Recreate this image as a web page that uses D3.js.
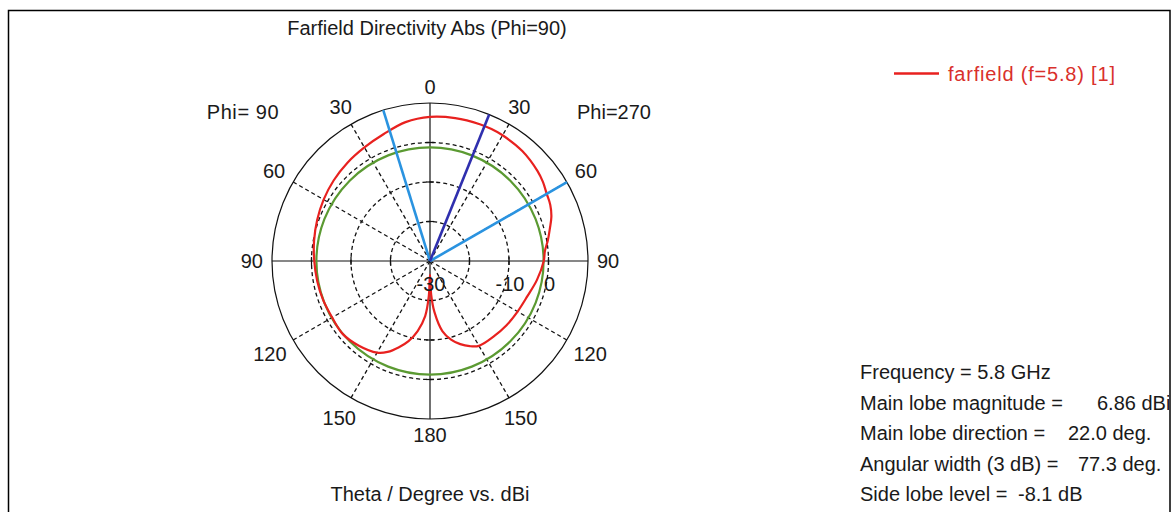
<!DOCTYPE html>
<html><head><meta charset="utf-8">
<script src="https://cdn.jsdelivr.net/npm/d3@7"></script>
<style>
html,body{margin:0;padding:0;background:#fff;}
svg{display:block;}
text{font-family:"Liberation Sans",Arial,sans-serif;fill:#1a1a1a;}
</style>
</head><body>
<svg id="c" width="1172" height="512"></svg>
<script>
// ---- data ----
const thetaDeg = [-178,-175,-170,-165,-160,-155,-150,-140,-130,-120,-110,-100,-90,-80,-70,-60,-50,-40,-30,-20,-10,
                  0,10,20,25,30,40,50,55,60,65,70,75,80,85,90,100,110,120,130,140,150,155,160,165,170,175,178,180];
const dirDbi   = [-21.0,-16.0,-12.0,-9.0,-6.7,-4.6,-3.2,-2.0,-1.2,-1.4,-1.2,-1.0,-0.7,-0.2,0.4,1.1,1.8,2.5,3.2,4.2,5.7,
                  6.5,6.75,6.86,6.85,6.75,6.35,5.5,4.9,4.1,3.6,2.7,1.4,0.3,-0.8,-1.2,-2.5,-3.8,-4.4,-4.7,-5.0,-5.2,-6.2,-7.6,-9.4,-12.0,-17.0,-21.5,-26.5];
const mainLobeDir = 22.0;
const beamEdges = [-17.2, 60.1];
const mainLobeMag = 6.86;
const sideLobeLevel = -8.1;
const radialDomain = [-30, 10];
const ringValues = [-20, -10, 0];
const ringLabelValues = [-30, -10, 0];
const gridAngles = [30, 60, 120, 150, -30, -60, -120, -150];
const angleLabelAngles = [0, 30, 60, 90, 120, 150, 180, -30, -60, -90, -120, -150];
const titleText = "Farfield Directivity Abs (Phi=90)";
const axisTitle = "Theta / Degree vs. dBi";
const phiLeft = "Phi= 90", phiRight = "Phi=270";
const legendText = "farfield (f=5.8) [1]";
const infoLabels = ["Frequency = 5.8 GHz","Main lobe magnitude =","Main lobe direction =","Angular width (3 dB) =","Side lobe level ="];
const infoValues = ["", "6.86 dBi", "22.0 deg.", "77.3 deg.", "-8.1 dB"];

// ---- layout ----
const W = 1172, H = 512;
const cx = 430, cy = 261, R = 158;
const FS = 20;
const valueX = [0, 1097, 1068, 1078, 1018];

const svg = d3.select("#c");
svg.append("rect").attr("width", W).attr("height", H).attr("fill", "#fff");
svg.append("defs").append("clipPath").attr("id","frameClip")
  .append("rect").attr("x", 9).attr("y", 11).attr("width", 1160).attr("height", 520);
svg.append("rect").attr("x", 8.5).attr("y", 10.5).attr("width", 1161.5).attr("height", 530)
  .attr("fill", "none").attr("stroke", "#000").attr("stroke-width", 1.5);

const rScale = d3.scaleLinear().domain(radialDomain).range([0, R]);
const rad = d => d * Math.PI / 180;
const px = (a, r) => cx + r * Math.sin(rad(a));
const py = (a, r) => cy - r * Math.cos(rad(a));

const g = svg.append("g");

// dashed rings
g.selectAll("circle.ring").data(ringValues).join("circle")
  .attr("cx", cx).attr("cy", cy).attr("r", d => rScale(d))
  .attr("fill", "none").attr("stroke", "#111").attr("stroke-width", 1.3).attr("stroke-dasharray", "4,3");
// dashed radial lines
g.selectAll("line.spoke").data(gridAngles).join("line")
  .attr("x1", cx).attr("y1", cy)
  .attr("x2", d => px(d, R)).attr("y2", d => py(d, R))
  .attr("stroke", "#111").attr("stroke-width", 1.3).attr("stroke-dasharray", "4,3");
// outer circle
g.append("circle").attr("cx", cx).attr("cy", cy).attr("r", R)
  .attr("fill", "none").attr("stroke", "#111").attr("stroke-width", 1.2);
// axes
[0, 90].forEach(a => {
  g.append("line").attr("x1", px(a, R)).attr("y1", py(a, R)).attr("x2", px(a + 180, R)).attr("y2", py(a + 180, R))
    .attr("stroke", "#111").attr("stroke-width", 1.2);
});
// ticks on axes at ring radii
[0, 90, 180, 270].forEach(a => {
  ringValues.forEach(v => {
    const r = rScale(v);
    const x = px(a, r), y = py(a, r);
    const tx = Math.cos(rad(a)) * 4, ty = Math.sin(rad(a)) * 4;
    g.append("line").attr("x1", x - tx).attr("y1", y - ty).attr("x2", x + tx).attr("y2", y + ty)
      .attr("stroke", "#111").attr("stroke-width", 1.2);
  });
});

// side lobe level circle (green)
g.append("circle").attr("cx", cx).attr("cy", cy).attr("r", rScale(mainLobeMag + sideLobeLevel))
  .attr("fill", "none").attr("stroke", "#5b9a32").attr("stroke-width", 2.2);

// red curve
const pts = thetaDeg.map((t, i) => ({t, v: dirDbi[i]}));
const lineR = d3.lineRadial().angle(d => rad(d.t)).radius(d => rScale(d.v)).curve(d3.curveCatmullRomClosed.alpha(0.5));
g.append("path").attr("transform", `translate(${cx},${cy})`).attr("d", lineR(pts))
  .attr("fill", "none").attr("stroke", "#e8211f").attr("stroke-width", 2.2).attr("stroke-linejoin", "round");

// beam lines
beamEdges.forEach(a => {
  g.append("line").attr("x1", cx).attr("y1", cy).attr("x2", px(a, R)).attr("y2", py(a, R))
    .attr("stroke", "#2a93e0").attr("stroke-width", 2.6);
});
g.append("line").attr("x1", cx).attr("y1", cy).attr("x2", px(mainLobeDir, R)).attr("y2", py(mainLobeDir, R))
  .attr("stroke", "#2f2fae").attr("stroke-width", 2.6);

// radial labels
g.selectAll("text.rl").data(ringLabelValues).join("text")
  .attr("x", d => cx + rScale(d) + 1).attr("y", cy + 23).attr("dy", "0.36em")
  .attr("text-anchor", "middle").attr("font-size", FS).text(d => d);

// angle labels
angleLabelAngles.forEach(a => {
  const s = String(Math.abs(a));
  const w = s.length * 0.556 * FS, h = 14;
  const rr = R + 9 + 0.5 * Math.abs(Math.sin(rad(a))) * w + 0.5 * Math.abs(Math.cos(rad(a))) * h;
  g.append("text").attr("x", px(a, rr)).attr("y", py(a, rr)).attr("dy", "0.36em")
    .attr("text-anchor", "middle").attr("font-size", FS).text(s);
});

// phi labels
g.append("text").attr("x", cx - 187).attr("y", cy - 149).attr("dy", "0.36em").attr("text-anchor", "middle")
  .attr("font-size", FS).style("letter-spacing", "0.6px").text(phiLeft);
g.append("text").attr("x", cx + 184).attr("y", cy - 149).attr("dy", "0.36em").attr("text-anchor", "middle")
  .attr("font-size", FS).text(phiRight);

// titles
svg.append("text").attr("x", cx - 3).attr("y", 28).attr("dy", "0.36em").attr("text-anchor", "middle")
  .attr("font-size", FS).text(titleText);
svg.append("text").attr("x", cx).attr("y", 494).attr("dy", "0.36em").attr("text-anchor", "middle")
  .attr("font-size", FS).text(axisTitle);

// legend
svg.append("line").attr("x1", 894).attr("x2", 939).attr("y1", 73.5).attr("y2", 73.5)
  .attr("stroke", "#e8211f").attr("stroke-width", 2.4);
svg.append("text").attr("x", 948).attr("y", 73.5).attr("dy", "0.36em").attr("font-size", FS)
  .style("letter-spacing", "0.8px").style("fill", "#d9302c").text(legendText);

// info block
const info = svg.append("g").attr("clip-path", "url(#frameClip)");
infoLabels.forEach((t, i) => {
  const y = 372 + i * 30.5;
  info.append("text").attr("x", 860).attr("y", y).attr("dy", "0.36em").attr("font-size", FS).text(t);
  if (infoValues[i]) info.append("text").attr("x", valueX[i]).attr("y", y).attr("dy", "0.36em").attr("font-size", FS).text(infoValues[i]);
});
</script>
</body></html>
